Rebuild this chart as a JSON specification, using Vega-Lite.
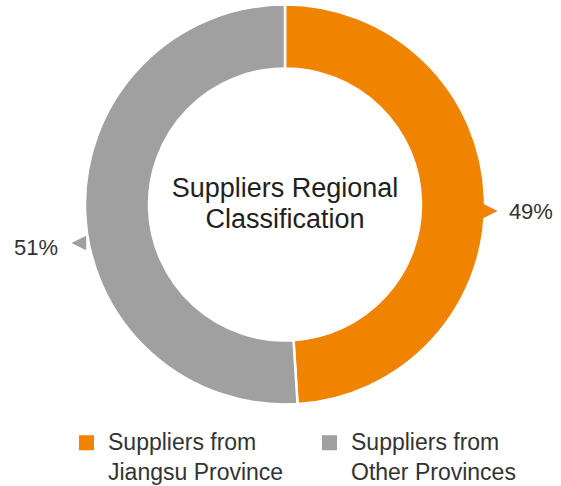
{
  "$schema": "https://vega.github.io/schema/vega-lite/v6.json",
  "width": 570,
  "height": 409,
  "autosize": "none",
  "padding": {"left": 0, "top": 0, "right": 0, "bottom": 77},
  "background": "white",
  "config": {
    "view": {"stroke": null},
    "font": "Liberation Sans",
    "style": {"guide-label": {"lineHeight": 30}}
  },
  "data": {
    "values": [
      {"category": "Suppliers from|Jiangsu Province", "share": 49, "label": "49%"},
      {"category": "Suppliers from|Other Provinces", "share": 51, "label": "51%"}
    ]
  },
  "encoding": {
    "theta": {"field": "share", "type": "quantitative", "stack": true},
    "order": {"field": "category", "type": "nominal"}
  },
  "layer": [
    {
      "mark": {"type": "arc", "innerRadius": 136, "outerRadius": 200, "stroke": "white", "strokeWidth": 2.5},
      "encoding": {
        "color": {
          "field": "category",
          "type": "nominal",
          "scale": {"domain": ["Suppliers from|Jiangsu Province", "Suppliers from|Other Provinces"], "range": ["#F08300", "#A0A0A0"]},
          "legend": {
            "title": null,
            "orient": "none",
            "legendX": 75,
            "legendY": 431,
            "direction": "horizontal",
            "columns": 2,
            "columnPadding": 34,
            "padding": 0,
            "symbolType": "square",
            "symbolSize": 225,
            "symbolStrokeWidth": 0,
            "symbolOpacity": 1,
            "labelFontSize": 23,
            "labelColor": "#333333",
            "labelFont": "Liberation Sans",
            "labelOffset": 10,
            "labelLimit": 400,
            "labelBaseline": "middle",
            "labelExpr": "split(datum.label, '|')"
          }
        }
      }
    },
    {
      "mark": {"type": "text", "font": "DejaVu Sans", "fontSize": 19, "radius": 198, "align": "left", "baseline": "middle", "dy": 12, "color": "#F08300"},
      "encoding": {
        "text": {"condition": {"test": "datum.label == '49%'", "value": "▶"}, "value": ""}
      }
    },
    {
      "mark": {"type": "text", "font": "DejaVu Sans", "fontSize": 19, "radius": 199, "align": "right", "baseline": "middle", "dy": 31, "color": "#A0A0A0"},
      "encoding": {
        "text": {"condition": {"test": "datum.label == '51%'", "value": "◀"}, "value": ""}
      }
    },
    {
      "mark": {"type": "text", "fontSize": 22, "radius": 224, "align": "left", "baseline": "middle", "dy": 15, "color": "#333333"},
      "encoding": {
        "text": {"condition": {"test": "datum.label == '49%'", "field": "label"}, "value": ""}
      }
    },
    {
      "mark": {"type": "text", "fontSize": 22, "radius": 227, "align": "right", "baseline": "middle", "dy": 36, "color": "#333333"},
      "encoding": {
        "text": {"condition": {"test": "datum.label == '51%'", "field": "label"}, "value": ""}
      }
    },
    {
      "data": {"values": [{"title": "Suppliers Regional Classification"}]},
      "mark": {"type": "text", "fontSize": 27, "align": "center", "baseline": "top", "dy": -29, "lineHeight": 31, "color": "#231F20", "text": ["Suppliers Regional", "Classification"]},
      "encoding": {
        "theta": null,
        "order": null
      }
    }
  ]
}
